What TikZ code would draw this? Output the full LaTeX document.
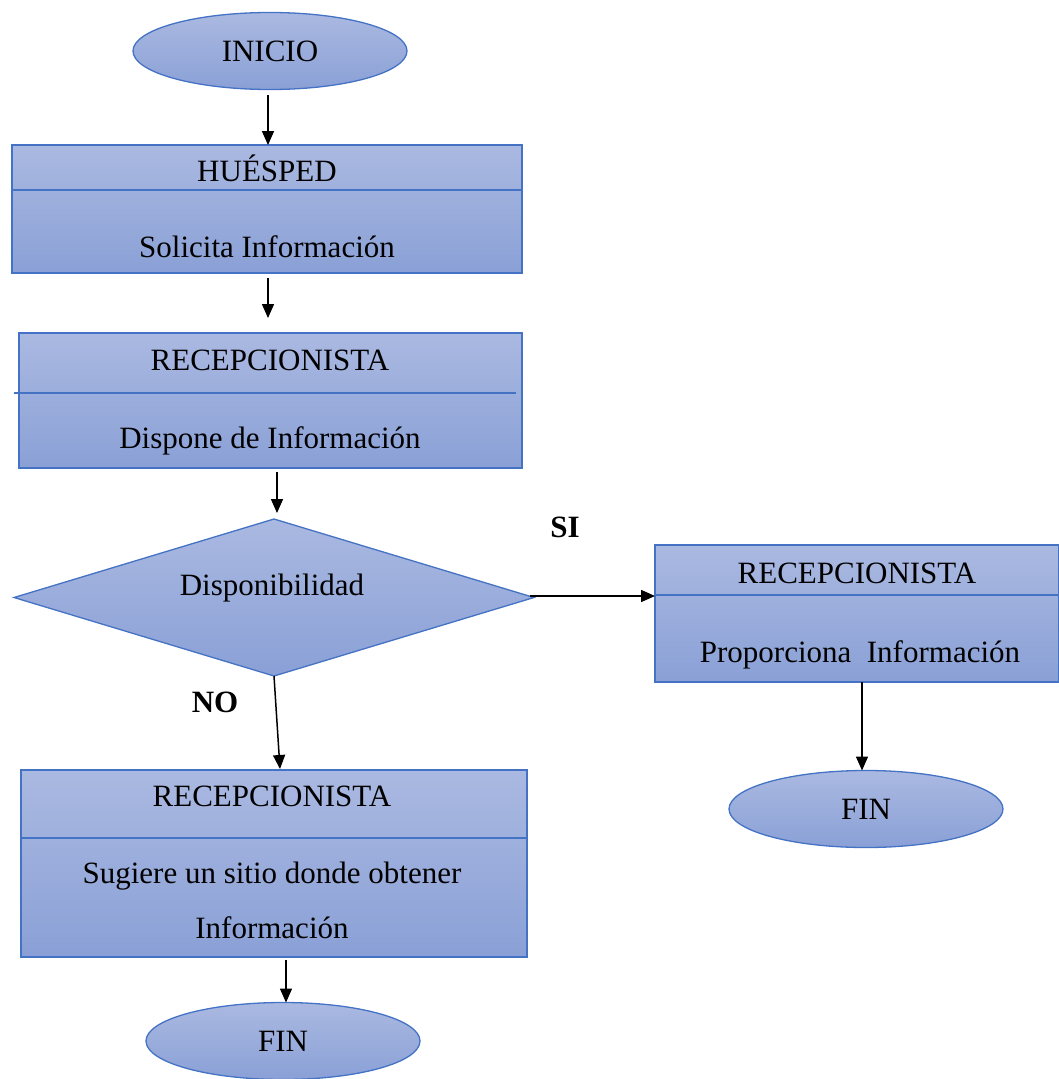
\documentclass[tikz,border=0pt]{standalone}
\usepackage{fontspec}
\setmainfont{Liberation Serif}
\usetikzlibrary{shapes.geometric,arrows.meta}
\definecolor{edgeblue}{HTML}{4472C4}
\definecolor{filltop}{HTML}{AAB9E1}
\definecolor{fillbot}{HTML}{8AA0D6}
\tikzset{
  shadedfill/.style={top color=filltop,bottom color=fillbot,draw=edgeblue,line width=1.3pt,inner sep=0pt,outer sep=0pt},
  termnode/.style={shadedfill,ellipse,minimum width=274pt,minimum height=77pt},
  procbox/.style={shadedfill,rectangle},
  decision/.style={shadedfill,diamond,aspect=3.3},
  divider/.style={draw=edgeblue,line width=2.6pt},
  lbl/.style={font=\fontsize{31}{36}\selectfont,inner sep=0pt,anchor=base},
  tag/.style={font=\fontsize{31}{36}\selectfont\bfseries,inner sep=0pt},
  flow/.style={line width=1.5pt,-{Triangle[length=14pt,width=12pt]}}
}
\begin{document}
\begin{tikzpicture}[x=1pt,y=-1pt]
\useasboundingbox (0,0) rectangle (1059,1079);

% start
\node[termnode] (inicio) at (270,51) {};
\node[lbl] (inicioT) at (270,61) {INICIO};

% guest request
\node[procbox,minimum width=510pt,minimum height=128pt] (huesped) at (267,209) {};
\draw[divider] (huesped.west|-0,190) -- (huesped.east|-0,190);
\node[lbl] (huespedA) at (267,181) {HUÉSPED};
\node[lbl] (huespedB) at (267,257) {Solicita Información};

% receptionist check
\node[procbox,minimum width=503pt,minimum height=135pt] (recep) at (270.5,400.5) {};
\coordinate (divL) at (14,393);
\coordinate (divR) at (516,393);
\draw[divider] (divL) -- (divR);
\node[lbl] (recepA) at (270,370) {RECEPCIONISTA};
\node[lbl] (recepB) at (270,448) {Dispone de Información};

% decision
\node[decision,minimum width=520pt,minimum height=157pt] (disp) at (274,597.5) {};
\node[lbl] (dispT) at (272,595) {Disponibilidad};
\node[tag] (si) at (565,527) {SI};
\node[tag] (no) at (215,702) {NO};

% right branch
\node[procbox,minimum width=404pt,minimum height=137pt] (prop) at (857,613.5) {};
\draw[divider] (prop.west|-0,595) -- (prop.east|-0,595);
\node[lbl] (propA) at (857,583) {RECEPCIONISTA};
\node[lbl] (propB) at (860,662) {Proporciona\ \ Información};
\node[termnode] (fin1) at (866,809) {};
\node[lbl] (fin1T) at (866,819) {FIN};

% bottom branch
\node[procbox,minimum width=506pt,minimum height=187pt] (sug) at (274,863.5) {};
\draw[divider] (sug.west|-0,838) -- (sug.east|-0,838);
\node[lbl] (sugA) at (272,806) {RECEPCIONISTA};
\node[lbl] (sugB) at (272,883) {Sugiere un sitio donde obtener};
\node[lbl] (sugC) at (272,938) {Información};
\node[termnode] (fin2) at (283,1041) {};
\node[lbl] (fin2T) at (283,1051) {FIN};

% connectors
\coordinate (a1s) at (268,95);
\draw[flow] (a1s) -- (huesped.north-|a1s);
\coordinate (a2s) at (268,278);
\draw[flow] (a2s) -- (268,318);
\coordinate (a3s) at (277,472);
\draw[flow] (a3s) -- (277,513);
\coordinate (a4s) at (530,596);
\draw[flow] (a4s) -- (prop.west|-a4s);
\draw[flow] (disp.south) -- (280,769);
\coordinate (a5s) at (862,682);
\draw[flow] (a5s) -- (fin1.north-|a5s);
\coordinate (a7s) at (286,960);
\draw[flow] (a7s) -- (fin2.north-|a7s);
\end{tikzpicture}
\end{document}
